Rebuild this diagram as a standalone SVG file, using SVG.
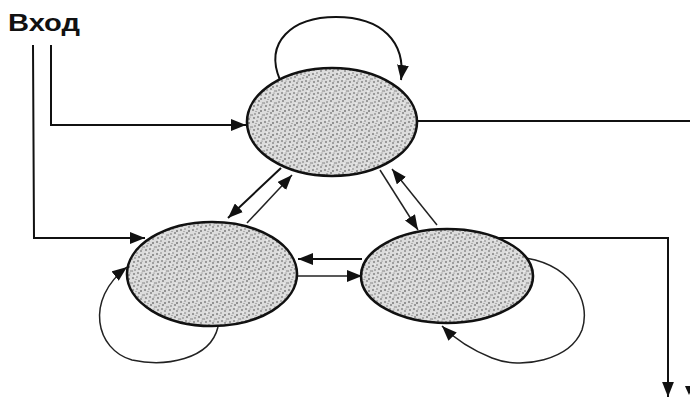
<svg xmlns="http://www.w3.org/2000/svg" width="690" height="398" viewBox="0 0 690 398">
<defs>
<style>
.node{stroke:#111;stroke-width:2.6;fill:url(#stip)}
.ln{fill:none;stroke:#111;stroke-width:2}
.lt{fill:none;stroke:#222;stroke-width:1.5}
.lbl{font-family:"Liberation Sans",Arial,sans-serif;font-weight:bold;font-size:23px;fill:#111}
</style>
<pattern id="stip" width="12" height="12" patternUnits="userSpaceOnUse">
<rect width="12" height="12" fill="#dcdcdc"/>
<circle cx="1" cy="2" r="0.8" fill="#444"/>
<circle cx="5" cy="1" r="0.7" fill="#666"/>
<circle cx="9" cy="3" r="0.8" fill="#333"/>
<circle cx="3" cy="6" r="0.7" fill="#555"/>
<circle cx="7" cy="5" r="0.8" fill="#444"/>
<circle cx="11" cy="7" r="0.7" fill="#666"/>
<circle cx="2" cy="10" r="0.8" fill="#444"/>
<circle cx="6" cy="9" r="0.7" fill="#333"/>
<circle cx="9" cy="11" r="0.8" fill="#555"/>
<circle cx="4" cy="3.5" r="0.6" fill="#777"/>
<circle cx="10" cy="9" r="0.6" fill="#777"/>
<circle cx="0.5" cy="7" r="0.6" fill="#777"/>
<circle cx="8" cy="7.5" r="0.5" fill="#fff"/>
<circle cx="3" cy="0.5" r="0.5" fill="#fff"/>
</pattern>
<marker id="ah" viewBox="0 0 14 11" refX="14" refY="5.5" markerWidth="15" markerHeight="12" markerUnits="userSpaceOnUse" orient="auto">
<path d="M0,0 L14,5.5 L0,11 Z" fill="#111"/>
</marker>
</defs>
<rect width="690" height="398" fill="#fff"/>
<text class="lbl" x="8" y="31" textLength="72" lengthAdjust="spacingAndGlyphs">Вход</text>
<g id="connectors">
<polyline class="ln" points="51,45 51,125 246,125" marker-end="url(#ah)"/>
<polyline class="ln" points="33,45 34,238 145,238" marker-end="url(#ah)"/>
<line class="ln" x1="418" y1="121" x2="690" y2="121"/>
<polyline class="ln" points="495,238 668,238 668,397" marker-end="url(#ah)"/>
<path d="M685,386 L693,386 L689,395 Z" fill="#111"/>
<path class="ln" d="M280,80 C264,42 292,17 336,17 C382,17 406,42 401,80" marker-end="url(#ah)"/>
<path class="lt" d="M218,327 C210,360 165,367 132,360 C96,350 84,300 127,267" marker-end="url(#ah)"/>
<path class="lt" d="M518,257 C570,262 592,300 582,330 C570,360 522,370 492,358 C472,350 456,340 442,326" marker-end="url(#ah)"/>
<line class="ln" x1="281" y1="168" x2="228" y2="218" marker-end="url(#ah)"/>
<line class="lt" x1="247" y1="223" x2="292" y2="175" marker-end="url(#ah)"/>
<line class="lt" x1="380" y1="170" x2="418" y2="230" marker-end="url(#ah)"/>
<line class="lt" x1="437" y1="225" x2="392" y2="169" marker-end="url(#ah)"/>
<line class="ln" x1="362" y1="259" x2="298" y2="259" marker-end="url(#ah)"/>
<line class="lt" x1="298" y1="276" x2="362" y2="276" marker-end="url(#ah)"/>
</g>
<g id="node-top"><ellipse class="node" cx="332" cy="122" rx="85" ry="54"/></g>
<g id="node-left"><ellipse class="node" cx="212" cy="274" rx="85" ry="52"/></g>
<g id="node-right"><ellipse class="node" cx="447" cy="276" rx="86" ry="47"/></g>
</svg>
